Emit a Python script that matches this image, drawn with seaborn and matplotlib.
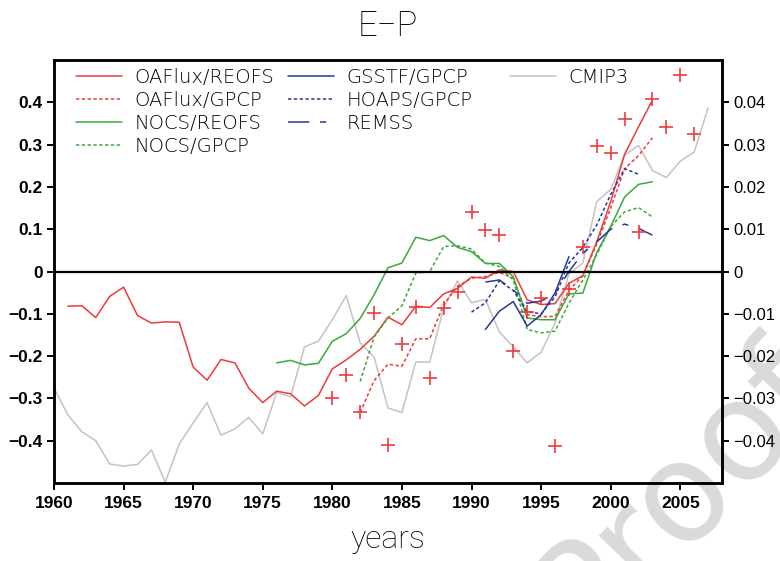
import numpy as np
import pandas as pd
import matplotlib
matplotlib.use("Agg")
import matplotlib.pyplot as plt
from matplotlib.lines import Line2D
import seaborn as sns

# ---------------- data ----------------
oaflux_reofs_years = list(range(1961, 2004))
oaflux_reofs = [-0.082, -0.081, -0.109, -0.059, -0.037, -0.104, -0.122, -0.119, -0.120, -0.226,
                -0.257, -0.208, -0.216, -0.276, -0.310, -0.283, -0.289, -0.318, -0.293, -0.230,
                -0.209, -0.184, -0.153, -0.108, -0.126, -0.082, -0.085, -0.053, -0.040, -0.013,
                -0.016, 0.004, 0.000, -0.067, -0.078, -0.076, -0.028, -0.010, 0.070, 0.165,
                0.277, 0.342, 0.405]

oaflux_gpcp_years = list(range(1982, 2004))
oaflux_gpcp = [-0.333, -0.258, -0.219, -0.224, -0.159, -0.159, -0.078, -0.035, -0.016, -0.012,
               -0.002, -0.016, -0.102, -0.107, -0.106, -0.045, -0.010, 0.065, 0.150, 0.243,
               0.274, 0.316]

nocs_reofs_years = list(range(1976, 2004))
nocs_reofs = [-0.216, -0.210, -0.221, -0.217, -0.165, -0.147, -0.111, -0.055, 0.009, 0.020,
              0.081, 0.073, 0.085, 0.057, 0.047, 0.019, 0.019, -0.012, -0.110, -0.114,
              -0.114, -0.053, -0.051, 0.045, 0.106, 0.176, 0.206, 0.212]

nocs_gpcp_years = list(range(1982, 2004))
nocs_gpcp = [-0.260, -0.155, -0.110, -0.081, -0.004, 0.000, 0.059, 0.061, 0.053, 0.020,
             0.012, -0.020, -0.137, -0.145, -0.141, -0.075, -0.020, 0.040, 0.106, 0.141,
             0.151, 0.129]

gsstf_years = list(range(1991, 1998))
gsstf_gpcp = [-0.137, -0.094, -0.071, -0.129, -0.102, -0.051, 0.035]

hoaps_years = list(range(1990, 2003))
hoaps_gpcp = [-0.096, -0.074, -0.022, -0.045, -0.095, -0.100, -0.060, 0.020, 0.057, 0.110,
              0.182, 0.243, 0.230]

remss_years = list(range(1991, 2004))
remss = [-0.025, -0.020, -0.043, -0.075, -0.070, -0.052, 0.000, 0.043, 0.070, 0.100,
         0.112, 0.102, 0.086]

cmip3_years = list(range(1960, 2008))
cmip3 = [-0.276, -0.339, -0.379, -0.400, -0.455, -0.460, -0.456, -0.422, -0.498, -0.408,
         -0.358, -0.310, -0.387, -0.372, -0.345, -0.384, -0.286, -0.296, -0.178, -0.165,
         -0.114, -0.057, -0.169, -0.202, -0.323, -0.333, -0.214, -0.214, -0.086, -0.022,
         -0.074, -0.066, -0.143, -0.178, -0.216, -0.191, -0.122, -0.005, 0.020, 0.165,
         0.194, 0.275, 0.298, 0.239, 0.222, 0.261, 0.282, 0.387]

# red crosses, right-hand axis units
cross_years = list(range(1980, 2007))
cross_values = [-0.0298, -0.0245, -0.0333, -0.0098, -0.0410, -0.0172, -0.0084, -0.0251, -0.0086,
                -0.0049, 0.0141, 0.0097, 0.0086, -0.0187, -0.0096, -0.0063, -0.0413, -0.0041,
                0.0059, 0.0296, 0.0280, 0.0361, 0.0094, 0.0408, 0.0341, 0.0465, 0.0324]

x_ticks = [1960, 1965, 1970, 1975, 1980, 1985, 1990, 1995, 2000, 2005]
left_ticks = [-0.4, -0.3, -0.2, -0.1, 0.0, 0.1, 0.2, 0.3, 0.4]
left_labels = ["\u22120.4", "\u22120.3", "\u22120.2", "\u22120.1", "0", "0.1", "0.2", "0.3", "0.4"]
right_ticks = [-0.04, -0.03, -0.02, -0.01, 0.0, 0.01, 0.02, 0.03, 0.04]
right_labels = ["\u22120.04", "\u22120.03", "\u22120.02", "\u22120.01", "0", "0.01", "0.02", "0.03", "0.04"]

# ---------------- style ----------------
sns.set_theme(style="ticks")
plt.rcParams["font.family"] = ["DejaVu Sans"]

RED = "#ee3a3a"
GREEN = "#3aaa3a"
BLUE = "#26379a"
GRAY = "#c3c3c3"
LW = 1.1
SHORT = (0, (2.2, 1.6))
REM = (0, (14, 7, 4, 7))
TICKFONT = ["Liberation Sans", "DejaVu Sans"]
THIN = ["Roboto", "DejaVu Sans"]

W, H = 780, 561
fig = plt.figure(figsize=(W / 100, H / 100), dpi=100)
fig.patch.set_facecolor("white")
ax = fig.add_axes([54 / W, (H - 483) / H, 668 / W, 423 / H])
ax.set_facecolor("none")

# watermark behind everything
fig.text(680 / W, 1 - 492 / H, "Proof", rotation=46, fontsize=100, color="#dadada",
         ha="center", va="center", zorder=-5)

series = [
    ("OAFlux/REOFS", oaflux_reofs_years, oaflux_reofs, RED, "-"),
    ("OAFlux/GPCP", oaflux_gpcp_years, oaflux_gpcp, RED, SHORT),
    ("NOCS/REOFS", nocs_reofs_years, nocs_reofs, GREEN, "-"),
    ("NOCS/GPCP", nocs_gpcp_years, nocs_gpcp, GREEN, SHORT),
    ("GSSTF/GPCP", gsstf_years, gsstf_gpcp, BLUE, "-"),
    ("HOAPS/GPCP", hoaps_years, hoaps_gpcp, BLUE, SHORT),
    ("REMSS", remss_years, remss, BLUE, REM),
    ("CMIP3", cmip3_years, cmip3, GRAY, "-"),
]
style = {s[0]: (s[3], s[4]) for s in series}

order = [7, 0, 1, 2, 3, 4, 5, 6]  # gray drawn underneath
for i in order:
    name, yrs, vals, col, ls = series[i]
    df = pd.DataFrame({"year": yrs, "value": vals})
    sns.lineplot(data=df, x="year", y="value", ax=ax, color=col, linestyle=ls,
                 linewidth=LW, legend=False)

ax.axhline(0, color="black", lw=1.6, zorder=5)

ax.set_xlim(1960, 2008)
ax.set_ylim(-0.5, 0.5)
ax.set_xticks(x_ticks)
ax.set_xticklabels([str(t) for t in x_ticks], fontweight="bold", fontsize=12.5, family=TICKFONT)
ax.set_yticks(left_ticks)
ax.set_yticklabels(left_labels, fontweight="bold", fontsize=12.5, family=TICKFONT)
ax.set_xlabel("")
ax.set_ylabel("")
ax.tick_params(axis="both", direction="out", length=5, width=1.4, pad=3, colors="black")
ax.tick_params(axis="x", pad=4)
for s in ax.spines.values():
    s.set_visible(True)
    s.set_linewidth(1.8)
    s.set_color("black")

ax2 = ax.twinx()
ax2.set_ylim(-0.05, 0.05)
cdf = pd.DataFrame({"year": cross_years, "value": cross_values})
sns.scatterplot(data=cdf, x="year", y="value", ax=ax2, marker="+", s=95, color=RED,
                linewidth=1.2, legend=False, zorder=6)
ax2.set_yticks(right_ticks)
ax2.set_yticklabels(right_labels, fontsize=12, family=TICKFONT)
ax2.set_ylabel("")
ax2.tick_params(axis="y", direction="out", length=5, width=1.4, pad=3, colors="black")
for s in ax2.spines.values():
    s.set_linewidth(1.8)
    s.set_color("black")

# legends: three columns placed separately
def col_legend(names, x_px):
    hs = [Line2D([0, 1], [0, 1], color=style[n][0], linestyle=style[n][1], linewidth=LW)
          for n in names]
    leg = ax.legend(hs, names, loc="upper left",
                    bbox_to_anchor=((x_px - 54) / 668, (483 - 68) / 423),
                    frameon=False, handlelength=2.35, handletextpad=0.65,
                    labelspacing=0.21, borderpad=0, borderaxespad=0,
                    prop={"family": "DejaVu Sans", "weight": "light", "size": 14})
    for t in leg.get_texts():
        t.set_color("black")
    return leg

l1 = col_legend(["OAFlux/REOFS", "OAFlux/GPCP", "NOCS/REOFS", "NOCS/GPCP"], 76)
ax.add_artist(l1)
l2 = col_legend(["GSSTF/GPCP", "HOAPS/GPCP", "REMSS"], 288)
ax.add_artist(l2)
l3 = col_legend(["CMIP3"], 510)

fig.text(388 / W, 1 - 26 / H, "E\u2212P", fontsize=25, ha="center", va="center",
         family=THIN, fontweight="light", color="black")
fig.text(388 / W, 1 - 548 / H, "years", fontsize=23, ha="center", va="baseline",
         family=THIN, fontweight="light", color="black")

fig.savefig("out.png", dpi=100)
